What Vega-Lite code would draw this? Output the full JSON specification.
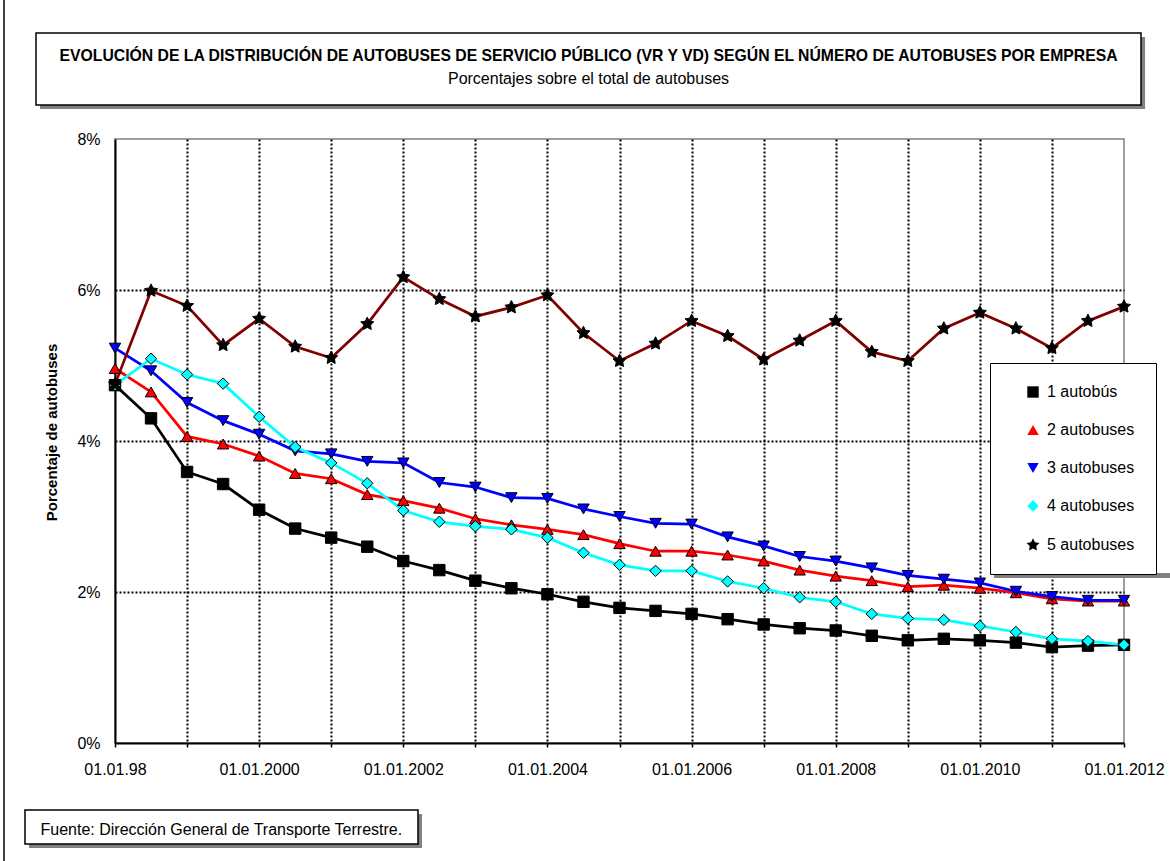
{
  "$schema": "https://vega.github.io/schema/vega-lite/v6.json",
  "autosize": {"type": "none"},
  "padding": {"left": 115, "top": 139, "right": 46, "bottom": 118},
  "width": 1009,
  "height": 604,
  "background": "white",
  "title": {
    "text": "EVOLUCIÓN DE LA DISTRIBUCIÓN DE AUTOBUSES DE SERVICIO PÚBLICO (VR Y VD) SEGÚN EL NÚMERO DE AUTOBUSES POR EMPRESA",
    "subtitle": "Porcentajes sobre el total de autobuses",
    "anchor": "middle",
    "frame": "group",
    "dx": -31,
    "dy": 89,
    "offset": 0,
    "zindex": 1,
    "font": "Liberation Sans",
    "fontSize": 15.75,
    "fontWeight": "bold",
    "color": "black",
    "subtitleFont": "Liberation Sans",
    "subtitleFontSize": 16,
    "subtitleColor": "black",
    "subtitlePadding": 7
  },
  "data": {
    "values": [
      {"fecha": 1998, "serie": "1 autobús", "pct": 4.74}, {"fecha": 1998.5, "serie": "1 autobús", "pct": 4.30}, {"fecha": 1999, "serie": "1 autobús", "pct": 3.59}, {"fecha": 1999.5, "serie": "1 autobús", "pct": 3.43}, {"fecha": 2000, "serie": "1 autobús", "pct": 3.09},
      {"fecha": 2000.5, "serie": "1 autobús", "pct": 2.84}, {"fecha": 2001, "serie": "1 autobús", "pct": 2.72}, {"fecha": 2001.5, "serie": "1 autobús", "pct": 2.60}, {"fecha": 2002, "serie": "1 autobús", "pct": 2.41}, {"fecha": 2002.5, "serie": "1 autobús", "pct": 2.29},
      {"fecha": 2003, "serie": "1 autobús", "pct": 2.15}, {"fecha": 2003.5, "serie": "1 autobús", "pct": 2.05}, {"fecha": 2004, "serie": "1 autobús", "pct": 1.97}, {"fecha": 2004.5, "serie": "1 autobús", "pct": 1.87}, {"fecha": 2005, "serie": "1 autobús", "pct": 1.79},
      {"fecha": 2005.5, "serie": "1 autobús", "pct": 1.75}, {"fecha": 2006, "serie": "1 autobús", "pct": 1.71}, {"fecha": 2006.5, "serie": "1 autobús", "pct": 1.64}, {"fecha": 2007, "serie": "1 autobús", "pct": 1.57}, {"fecha": 2007.5, "serie": "1 autobús", "pct": 1.52},
      {"fecha": 2008, "serie": "1 autobús", "pct": 1.49}, {"fecha": 2008.5, "serie": "1 autobús", "pct": 1.42}, {"fecha": 2009, "serie": "1 autobús", "pct": 1.36}, {"fecha": 2009.5, "serie": "1 autobús", "pct": 1.38}, {"fecha": 2010, "serie": "1 autobús", "pct": 1.36},
      {"fecha": 2010.5, "serie": "1 autobús", "pct": 1.33}, {"fecha": 2011, "serie": "1 autobús", "pct": 1.27}, {"fecha": 2011.5, "serie": "1 autobús", "pct": 1.29}, {"fecha": 2012, "serie": "1 autobús", "pct": 1.30},

      {"fecha": 1998, "serie": "2 autobuses", "pct": 4.96}, {"fecha": 1998.5, "serie": "2 autobuses", "pct": 4.65}, {"fecha": 1999, "serie": "2 autobuses", "pct": 4.06}, {"fecha": 1999.5, "serie": "2 autobuses", "pct": 3.96}, {"fecha": 2000, "serie": "2 autobuses", "pct": 3.80},
      {"fecha": 2000.5, "serie": "2 autobuses", "pct": 3.57}, {"fecha": 2001, "serie": "2 autobuses", "pct": 3.50}, {"fecha": 2001.5, "serie": "2 autobuses", "pct": 3.29}, {"fecha": 2002, "serie": "2 autobuses", "pct": 3.21}, {"fecha": 2002.5, "serie": "2 autobuses", "pct": 3.11},
      {"fecha": 2003, "serie": "2 autobuses", "pct": 2.97}, {"fecha": 2003.5, "serie": "2 autobuses", "pct": 2.89}, {"fecha": 2004, "serie": "2 autobuses", "pct": 2.83}, {"fecha": 2004.5, "serie": "2 autobuses", "pct": 2.76}, {"fecha": 2005, "serie": "2 autobuses", "pct": 2.64},
      {"fecha": 2005.5, "serie": "2 autobuses", "pct": 2.54}, {"fecha": 2006, "serie": "2 autobuses", "pct": 2.54}, {"fecha": 2006.5, "serie": "2 autobuses", "pct": 2.49}, {"fecha": 2007, "serie": "2 autobuses", "pct": 2.41}, {"fecha": 2007.5, "serie": "2 autobuses", "pct": 2.29},
      {"fecha": 2008, "serie": "2 autobuses", "pct": 2.21}, {"fecha": 2008.5, "serie": "2 autobuses", "pct": 2.15}, {"fecha": 2009, "serie": "2 autobuses", "pct": 2.07}, {"fecha": 2009.5, "serie": "2 autobuses", "pct": 2.09}, {"fecha": 2010, "serie": "2 autobuses", "pct": 2.05},
      {"fecha": 2010.5, "serie": "2 autobuses", "pct": 1.99}, {"fecha": 2011, "serie": "2 autobuses", "pct": 1.91}, {"fecha": 2011.5, "serie": "2 autobuses", "pct": 1.88}, {"fecha": 2012, "serie": "2 autobuses", "pct": 1.88},

      {"fecha": 1998, "serie": "3 autobuses", "pct": 5.23}, {"fecha": 1998.5, "serie": "3 autobuses", "pct": 4.93}, {"fecha": 1999, "serie": "3 autobuses", "pct": 4.51}, {"fecha": 1999.5, "serie": "3 autobuses", "pct": 4.27}, {"fecha": 2000, "serie": "3 autobuses", "pct": 4.09},
      {"fecha": 2000.5, "serie": "3 autobuses", "pct": 3.87}, {"fecha": 2001, "serie": "3 autobuses", "pct": 3.83}, {"fecha": 2001.5, "serie": "3 autobuses", "pct": 3.73}, {"fecha": 2002, "serie": "3 autobuses", "pct": 3.71}, {"fecha": 2002.5, "serie": "3 autobuses", "pct": 3.45},
      {"fecha": 2003, "serie": "3 autobuses", "pct": 3.39}, {"fecha": 2003.5, "serie": "3 autobuses", "pct": 3.25}, {"fecha": 2004, "serie": "3 autobuses", "pct": 3.24}, {"fecha": 2004.5, "serie": "3 autobuses", "pct": 3.10}, {"fecha": 2005, "serie": "3 autobuses", "pct": 3.00},
      {"fecha": 2005.5, "serie": "3 autobuses", "pct": 2.91}, {"fecha": 2006, "serie": "3 autobuses", "pct": 2.90}, {"fecha": 2006.5, "serie": "3 autobuses", "pct": 2.73}, {"fecha": 2007, "serie": "3 autobuses", "pct": 2.61}, {"fecha": 2007.5, "serie": "3 autobuses", "pct": 2.47},
      {"fecha": 2008, "serie": "3 autobuses", "pct": 2.41}, {"fecha": 2008.5, "serie": "3 autobuses", "pct": 2.32}, {"fecha": 2009, "serie": "3 autobuses", "pct": 2.22}, {"fecha": 2009.5, "serie": "3 autobuses", "pct": 2.17}, {"fecha": 2010, "serie": "3 autobuses", "pct": 2.12},
      {"fecha": 2010.5, "serie": "3 autobuses", "pct": 2.01}, {"fecha": 2011, "serie": "3 autobuses", "pct": 1.94}, {"fecha": 2011.5, "serie": "3 autobuses", "pct": 1.89}, {"fecha": 2012, "serie": "3 autobuses", "pct": 1.89},

      {"fecha": 1998, "serie": "4 autobuses", "pct": 4.74}, {"fecha": 1998.5, "serie": "4 autobuses", "pct": 5.09}, {"fecha": 1999, "serie": "4 autobuses", "pct": 4.88}, {"fecha": 1999.5, "serie": "4 autobuses", "pct": 4.76}, {"fecha": 2000, "serie": "4 autobuses", "pct": 4.32},
      {"fecha": 2000.5, "serie": "4 autobuses", "pct": 3.92}, {"fecha": 2001, "serie": "4 autobuses", "pct": 3.71}, {"fecha": 2001.5, "serie": "4 autobuses", "pct": 3.44}, {"fecha": 2002, "serie": "4 autobuses", "pct": 3.08}, {"fecha": 2002.5, "serie": "4 autobuses", "pct": 2.93},
      {"fecha": 2003, "serie": "4 autobuses", "pct": 2.87}, {"fecha": 2003.5, "serie": "4 autobuses", "pct": 2.83}, {"fecha": 2004, "serie": "4 autobuses", "pct": 2.72}, {"fecha": 2004.5, "serie": "4 autobuses", "pct": 2.52}, {"fecha": 2005, "serie": "4 autobuses", "pct": 2.36},
      {"fecha": 2005.5, "serie": "4 autobuses", "pct": 2.28}, {"fecha": 2006, "serie": "4 autobuses", "pct": 2.28}, {"fecha": 2006.5, "serie": "4 autobuses", "pct": 2.14}, {"fecha": 2007, "serie": "4 autobuses", "pct": 2.05}, {"fecha": 2007.5, "serie": "4 autobuses", "pct": 1.93},
      {"fecha": 2008, "serie": "4 autobuses", "pct": 1.87}, {"fecha": 2008.5, "serie": "4 autobuses", "pct": 1.71}, {"fecha": 2009, "serie": "4 autobuses", "pct": 1.65}, {"fecha": 2009.5, "serie": "4 autobuses", "pct": 1.63}, {"fecha": 2010, "serie": "4 autobuses", "pct": 1.55},
      {"fecha": 2010.5, "serie": "4 autobuses", "pct": 1.47}, {"fecha": 2011, "serie": "4 autobuses", "pct": 1.38}, {"fecha": 2011.5, "serie": "4 autobuses", "pct": 1.35}, {"fecha": 2012, "serie": "4 autobuses", "pct": 1.30},

      {"fecha": 1998, "serie": "5 autobuses", "pct": 4.75}, {"fecha": 1998.5, "serie": "5 autobuses", "pct": 5.99}, {"fecha": 1999, "serie": "5 autobuses", "pct": 5.79}, {"fecha": 1999.5, "serie": "5 autobuses", "pct": 5.27}, {"fecha": 2000, "serie": "5 autobuses", "pct": 5.62},
      {"fecha": 2000.5, "serie": "5 autobuses", "pct": 5.25}, {"fecha": 2001, "serie": "5 autobuses", "pct": 5.10}, {"fecha": 2001.5, "serie": "5 autobuses", "pct": 5.55}, {"fecha": 2002, "serie": "5 autobuses", "pct": 6.17}, {"fecha": 2002.5, "serie": "5 autobuses", "pct": 5.88},
      {"fecha": 2003, "serie": "5 autobuses", "pct": 5.65}, {"fecha": 2003.5, "serie": "5 autobuses", "pct": 5.77}, {"fecha": 2004, "serie": "5 autobuses", "pct": 5.93}, {"fecha": 2004.5, "serie": "5 autobuses", "pct": 5.43}, {"fecha": 2005, "serie": "5 autobuses", "pct": 5.06},
      {"fecha": 2005.5, "serie": "5 autobuses", "pct": 5.29}, {"fecha": 2006, "serie": "5 autobuses", "pct": 5.59}, {"fecha": 2006.5, "serie": "5 autobuses", "pct": 5.39}, {"fecha": 2007, "serie": "5 autobuses", "pct": 5.08}, {"fecha": 2007.5, "serie": "5 autobuses", "pct": 5.33},
      {"fecha": 2008, "serie": "5 autobuses", "pct": 5.59}, {"fecha": 2008.5, "serie": "5 autobuses", "pct": 5.18}, {"fecha": 2009, "serie": "5 autobuses", "pct": 5.06}, {"fecha": 2009.5, "serie": "5 autobuses", "pct": 5.49}, {"fecha": 2010, "serie": "5 autobuses", "pct": 5.70},
      {"fecha": 2010.5, "serie": "5 autobuses", "pct": 5.49}, {"fecha": 2011, "serie": "5 autobuses", "pct": 5.23}, {"fecha": 2011.5, "serie": "5 autobuses", "pct": 5.59}, {"fecha": 2012, "serie": "5 autobuses", "pct": 5.78}
    ]
  },
  "layer": [
    {
      "data": {"values": [{}]},
      "mark": {"type": "rule", "color": "black", "strokeWidth": 1.5},
      "encoding": {
        "x": {"datum": 1996.46, "type": "quantitative", "scale": {"domain": [1998, 2012], "nice": false, "zero": false}},
        "y": {"datum": 9.841, "type": "quantitative", "scale": {"domain": [0, 8], "nice": false}},
        "y2": {"datum": -1.6}
      }
    },
    {
      "data": {"values": [{"x": 1996.96, "x2": 2012.292, "y": 8.45, "y2": 8.397}, {"x": 2012.236, "x2": 2012.292, "y": 9.351, "y2": 8.397}, {"x": 1996.807, "x2": 2002.26, "y": -1.338, "y2": -1.391}, {"x": 2002.204, "x2": 2002.26, "y": -0.94, "y2": -1.391}, {"x": 2010.196, "x2": 2015, "y": 2.252, "y2": 2.185}]},
      "mark": {"type": "rect", "fill": "#808080"},
      "encoding": {
        "x": {"field": "x", "type": "quantitative", "scale": {"domain": [1998, 2012], "nice": false, "zero": false}},
        "x2": {"field": "x2"},
        "y": {"field": "y", "type": "quantitative", "scale": {"domain": [0, 8], "nice": false}},
        "y2": {"field": "y2"}
      }
    },
    {
      "data": {"values": [{"x": 1996.904, "x2": 2012.236, "y": 9.404, "y2": 8.45}, {"x": 1996.751, "x2": 2002.204, "y": -0.887, "y2": -1.338}]},
      "mark": {"type": "rect", "filled": false, "color": "black", "strokeWidth": 1.5},
      "encoding": {
        "x": {"field": "x", "type": "quantitative", "scale": {"domain": [1998, 2012], "nice": false, "zero": false}},
        "x2": {"field": "x2"},
        "y": {"field": "y", "type": "quantitative", "scale": {"domain": [0, 8], "nice": false}},
        "y2": {"field": "y2"}
      }
    },
    {
      "transform": [{"filter": {"field": "serie", "equal": "1 autobús"}}],
      "mark": {"type": "line", "strokeWidth": 2.75, "color": "#000000"},
      "encoding": {
        "x": {
          "field": "fecha",
          "type": "quantitative",
          "scale": {"domain": [1998, 2012], "nice": false, "zero": false},
          "axis": {
            "values": [1998, 1999, 2000, 2001, 2002, 2003, 2004, 2005, 2006, 2007, 2008, 2009, 2010, 2011, 2012],
            "labelExpr": "datum.value == 1998 ? '01.01.98' : (datum.value % 2 == 0 ? '01.01.' + datum.value : '')",
            "labelFlush": false,
            "labelOverlap": false,
            "labelFont": "Liberation Sans",
            "labelFontSize": 16,
            "labelColor": "black",
            "labelPadding": 14,
            "tickSize": 4,
            "tickColor": "black",
            "tickWidth": 1.5,
            "domainColor": "black",
            "domainWidth": 2,
            "grid": true,
            "gridColor": {"condition": {"test": "datum.value == 1998 || datum.value == 2012", "value": "transparent"}, "value": "black"},
            "gridDash": [2, 2],
            "gridWidth": 2,
            "title": "Fuente: Dirección General de Transporte Terrestre.",
            "titleFont": "Liberation Sans",
            "titleFontSize": 16,
            "titleFontWeight": "normal",
            "titleColor": "black",
            "titleX": -75,
            "titleY": 86,
            "titleAlign": "left",
            "titleAnchor": "start",
            "titleBaseline": "middle"
          }
        },
        "y": {
          "field": "pct",
          "type": "quantitative",
          "scale": {"domain": [0, 8], "nice": false},
          "axis": {
            "values": [0, 2, 4, 6, 8],
            "labelExpr": "datum.value + '%'",
            "labelFont": "Liberation Sans",
            "labelFontSize": 16,
            "labelColor": "black",
            "labelPadding": 15,
            "ticks": false,
            "domainColor": "black",
            "domainWidth": 2,
            "grid": true,
            "gridColor": {"condition": {"test": "datum.value == 0 || datum.value == 8", "value": "transparent"}, "value": "black"},
            "gridDash": [2, 2],
            "gridWidth": 2,
            "title": "Porcentaje de autobuses",
            "titleFont": "Liberation Sans",
            "titleFontSize": 15,
            "titleFontWeight": "bold",
            "titleColor": "black",
            "titleX": -64,
            "titleY": 293,
            "titleAngle": -90,
            "titleAlign": "center",
            "titleBaseline": "middle"
          }
        }
      }
    },
    {
      "transform": [{"filter": {"field": "serie", "equal": "2 autobuses"}}],
      "mark": {"type": "line", "strokeWidth": 2.75, "color": "#FF0000"},
      "encoding": {"x": {"field": "fecha", "type": "quantitative"}, "y": {"field": "pct", "type": "quantitative"}}
    },
    {
      "transform": [{"filter": {"field": "serie", "equal": "3 autobuses"}}],
      "mark": {"type": "line", "strokeWidth": 2.75, "color": "#0000FF"},
      "encoding": {"x": {"field": "fecha", "type": "quantitative"}, "y": {"field": "pct", "type": "quantitative"}}
    },
    {
      "transform": [{"filter": {"field": "serie", "equal": "4 autobuses"}}],
      "mark": {"type": "line", "strokeWidth": 2.75, "color": "#00FFFF"},
      "encoding": {"x": {"field": "fecha", "type": "quantitative"}, "y": {"field": "pct", "type": "quantitative"}}
    },
    {
      "transform": [{"filter": {"field": "serie", "equal": "5 autobuses"}}],
      "mark": {"type": "line", "strokeWidth": 2.75, "color": "#800000"},
      "encoding": {"x": {"field": "fecha", "type": "quantitative"}, "y": {"field": "pct", "type": "quantitative"}}
    },
    {
      "mark": {"type": "point", "filled": true, "stroke": "black", "strokeWidth": 1, "size": 130, "opacity": 1},
      "encoding": {
        "x": {"field": "fecha", "type": "quantitative"},
        "y": {"field": "pct", "type": "quantitative"},
        "shape": {
          "field": "serie",
          "type": "nominal",
          "scale": {
            "domain": ["1 autobús", "2 autobuses", "3 autobuses", "4 autobuses", "5 autobuses"],
            "range": ["square", "triangle-up", "triangle-down", "diamond", "M0,-1.2L0.353,-0.486L1.141,-0.371L0.571,0.185L0.705,0.971L0,0.6L-0.705,0.971L-0.571,0.185L-1.141,-0.371L-0.353,-0.486Z"]
          },
          "legend": {
            "title": null,
            "labelExpr": "datum.label + '\u00a0\u00a0\u00a0\u00a0\u00a0\u00a0\u00a0\u00a0\u00a0\u00a0\u00a0\u00a0'",
            "encode": {"symbols": {"update": {"stroke": {"value": "black"}, "strokeWidth": {"value": 1}}}}
          }
        },
        "fill": {
          "field": "serie",
          "type": "nominal",
          "scale": {
            "domain": ["1 autobús", "2 autobuses", "3 autobuses", "4 autobuses", "5 autobuses"],
            "range": ["#000000", "#FF0000", "#0000FF", "#00FFFF", "#000000"]
          },
          "legend": {
            "title": null,
            "labelExpr": "datum.label + '\u00a0\u00a0\u00a0\u00a0\u00a0\u00a0\u00a0\u00a0\u00a0\u00a0\u00a0\u00a0'",
            "encode": {"symbols": {"update": {"stroke": {"value": "black"}, "strokeWidth": {"value": 1}}}}
          }
        }
      }
    }
  ],
  "config": {
    "font": "Liberation Sans",
    "view": {"stroke": "#808080", "strokeWidth": 1.5},
    "legend": {
      "orient": "none",
      "legendX": 875,
      "legendY": 224,
      "zindex": 1,
      "direction": "vertical",
      "strokeColor": "black",
      "fillColor": "white",
      "padding": 21,
      "rowPadding": 22,
      "labelFont": "Liberation Sans",
      "labelFontSize": 16,
      "labelColor": "black",
      "symbolSize": 130,
      "symbolStrokeColor": "black",
      "symbolStrokeWidth": 1,
      "symbolOffset": 14,
      "labelOffset": 6
    }
  }
}
